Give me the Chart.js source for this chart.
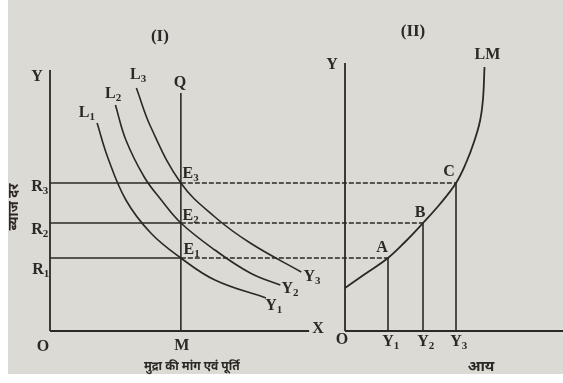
<!DOCTYPE html>
<html>
<head>
<meta charset="utf-8">
<script src="https://cdn.jsdelivr.net/npm/chart.js@4/dist/chart.umd.min.js"></script>
<style>
  html, body { margin: 0; padding: 0; background: #ffffff; }
  #wrap { position: relative; width: 563px; height: 383px; }
  canvas { display: block; }
</style>
</head>
<body>
<div id="wrap"><canvas id="lm" width="563" height="383"></canvas></div>
<script>
// Interest rate levels R1, R2, R3 and the fixed money supply M
const rateLevels = [7.3, 10.8, 14.8];
const moneySupply = 10;
// Income levels Y1, Y2, Y3 that clear the money market at R1..R3
const incomeLevels = [4.3, 7.8, 11.1];

// Liquidity preference curves (money demanded, interest rate) for each income level
const l1Money = [3.6, 4.4, 5.8, 7.7, 10, 12.6, 16.5];
const l1Rate  = [20.8, 17.4, 13.1, 9.8, 7.3, 5.1, 3.3];
const l2Money = [5.0, 5.8, 7.2, 8.5, 10, 12.6, 15.3, 17.6];
const l2Rate  = [22.6, 19.1, 15.4, 13.1, 10.8, 8.1, 5.8, 4.6];
const l3Money = [6.6, 7.7, 10, 12.6, 15.3, 19.2];
const l3Rate  = [24.3, 20.4, 14.8, 11.4, 8.8, 5.9];

// LM curve (income, interest rate), passing through A, B and C
const lmIncome = [0, 2.0, 4.3, 6.0, 7.8, 9.5, 11.1, 12.1, 12.9, 13.5, 13.8, 13.95];
const lmRate   = [4.3, 5.7, 7.3, 8.9, 10.8, 12.7, 14.8, 16.8, 18.9, 21.0, 23.2, 26.4];

// Axis extents in data units
const moneyAxisEnd = 19.8;
const rateAxisTopI = 26.1;
const supplyLineTop = 23.8;
const rateAxisTopII = 26.8;
const incomeAxisEnd = 21.8;

const INK = '#2b2825';
const PAPER = 'rgb(220,218,212)';

const pts = (xs, ys) => xs.map((x, i) => ({ x, y: ys[i] }));
const seg = (x0, y0, x1, y1) => [{ x: x0, y: y0 }, { x: x1, y: y1 }];

function lineSet(data, xAxisID, width, smooth) {
  return {
    type: 'line', data, xAxisID, yAxisID: 'y',
    borderColor: INK, borderWidth: width || 1.6,
    pointRadius: 0, fill: false, clip: false,
    tension: smooth ? 0.4 : 0
  };
}

const datasets = [
  // panel I axes and money supply line
  lineSet(seg(0, 0, 0, rateAxisTopI), 'xm', 1.8),
  lineSet(seg(0, 0, moneyAxisEnd, 0), 'xm', 1.8),
  lineSet(seg(moneySupply, 0, moneySupply, supplyLineTop), 'xm', 1.6),
  // solid rate lines from the axis to the equilibrium points
  ...rateLevels.map(r => lineSet(seg(0, r, moneySupply, r), 'xm', 1.6)),
  // liquidity preference curves
  lineSet(pts(l1Money, l1Rate), 'xm', 1.6, true),
  lineSet(pts(l2Money, l2Rate), 'xm', 1.6, true),
  lineSet(pts(l3Money, l3Rate), 'xm', 1.6, true),
  // panel II axes
  lineSet(seg(0, 0, 0, rateAxisTopII), 'xi', 1.8),
  lineSet(seg(0, 0, incomeAxisEnd, 0), 'xi', 1.8),
  // drop lines from A, B, C to the income axis
  ...incomeLevels.map((y, i) => lineSet(seg(y, 0, y, rateLevels[i]), 'xi', 1.6)),
  // LM curve
  lineSet(pts(lmIncome, lmRate), 'xi', 1.8, true)
];

// Text labels: anchor in data units, plus a small pixel nudge
const labels = [
  { t: '(I)', ax: 'xm', x: 8.4, y: 29.4, dx: 0, dy: 0, size: 17 },
  { t: '(II)', ax: 'xi', x: 6.8, y: 29.9, dx: 0, dy: 0, size: 17 },
  { t: 'Y', ax: 'xm', x: 0, y: rateAxisTopI, dx: -13, dy: 7 },
  { t: 'L', s: '1', ax: 'xm', x: l1Money[0], y: l1Rate[0], dx: -13, dy: -10 },
  { t: 'L', s: '2', ax: 'xm', x: l2Money[0], y: l2Rate[0], dx: -5, dy: -11 },
  { t: 'L', s: '3', ax: 'xm', x: l3Money[0], y: l3Rate[0], dx: -1, dy: -13 },
  { t: 'Q', ax: 'xm', x: moneySupply, y: supplyLineTop, dx: -1, dy: -10 },
  { t: 'E', s: '3', ax: 'xm', x: moneySupply, y: rateLevels[2], dx: 7, dy: -9 },
  { t: 'E', s: '2', ax: 'xm', x: moneySupply, y: rateLevels[1], dx: 7, dy: -7 },
  { t: 'E', s: '1', ax: 'xm', x: moneySupply, y: rateLevels[0], dx: 8, dy: -8 },
  { t: 'R', s: '3', ax: 'xm', x: 0, y: rateLevels[2], dx: -13, dy: 4 },
  { t: 'R', s: '2', ax: 'xm', x: 0, y: rateLevels[1], dx: -13, dy: 7 },
  { t: 'R', s: '1', ax: 'xm', x: 0, y: rateLevels[0], dx: -12, dy: 12 },
  { t: 'O', ax: 'xm', x: 0, y: 0, dx: -7, dy: 16 },
  { t: 'M', ax: 'xm', x: moneySupply, y: 0, dx: 1, dy: 15 },
  { t: 'X', ax: 'xm', x: moneyAxisEnd, y: 0, dx: 9, dy: -2 },
  { t: 'Y', s: '1', ax: 'xm', x: l1Money[l1Money.length - 1], y: l1Rate[l1Rate.length - 1], dx: 5, dy: 8 },
  { t: 'Y', s: '2', ax: 'xm', x: l2Money[l2Money.length - 1], y: l2Rate[l2Rate.length - 1], dx: 7, dy: 4 },
  { t: 'Y', s: '3', ax: 'xm', x: l3Money[l3Money.length - 1], y: l3Rate[l3Rate.length - 1], dx: 8, dy: 5 },
  { t: 'Y', ax: 'xi', x: 0, y: rateAxisTopII, dx: -13, dy: 2 },
  { t: 'LM', ax: 'xi', x: lmIncome[lmIncome.length - 1], y: lmRate[lmRate.length - 1], dx: 3, dy: -12 },
  { t: 'A', ax: 'xi', x: incomeLevels[0], y: rateLevels[0], dx: -6, dy: -10 },
  { t: 'B', ax: 'xi', x: incomeLevels[1], y: rateLevels[1], dx: -3, dy: -10 },
  { t: 'C', ax: 'xi', x: incomeLevels[2], y: rateLevels[2], dx: -7, dy: -11 },
  { t: 'O', ax: 'xi', x: 0, y: 0, dx: -3, dy: 9 },
  ...incomeLevels.map((v, i) => ({ t: 'Y', s: String(i + 1), ax: 'xi', x: v, y: 0, dx: 0, dy: 11 })),
  { t: 'मुद्रा की मांग एवं पूर्ति', ax: 'xm', x: moneySupply, y: 0, dx: 11, dy: 37, size: 12, deva: true },
  { t: 'आय', ax: 'xi', x: 13.6, y: 0, dx: 0, dy: 37, size: 15, deva: true }
];

const SERIF = '"Liberation Serif", "DejaVu Serif", serif';
const DEVA = '"Noto Sans Devanagari", "Lohit Devanagari", "FreeSans", "Noto Sans", "DejaVu Sans", sans-serif';

const paperPlugin = {
  id: 'paper',
  beforeDraw(chart) {
    const { ctx, width, height } = chart;
    ctx.save();
    ctx.fillStyle = '#ffffff';
    ctx.fillRect(0, 0, width, height);
    ctx.fillStyle = PAPER;
    ctx.fillRect(8, 0, width - 8, height - 9);
    ctx.restore();
  }
};

// Dashed connectors carrying each rate from panel I across to the LM curve
const connectorPlugin = {
  id: 'connectors',
  afterDatasetsDraw(chart) {
    const { ctx, scales } = chart;
    ctx.save();
    ctx.strokeStyle = INK;
    ctx.lineWidth = 1.5;
    ctx.setLineDash([5, 2]);
    rateLevels.forEach((r, i) => {
      const y = scales.y.getPixelForValue(r);
      const x0 = scales.xm.getPixelForValue(moneySupply);
      const x1 = scales.xi.getPixelForValue(incomeLevels[i]);
      ctx.beginPath();
      ctx.moveTo(x0, y);
      ctx.lineTo(x1, y);
      ctx.stroke();
    });
    ctx.restore();
  }
};

const labelPlugin = {
  id: 'labels',
  afterDraw(chart) {
    const { ctx, scales } = chart;
    ctx.save();
    ctx.fillStyle = INK;
    ctx.textBaseline = 'middle';
    labels.forEach(l => {
      const px = scales[l.ax].getPixelForValue(l.x) + l.dx;
      const py = scales.y.getPixelForValue(l.y) + l.dy;
      const size = l.size || 16;
      ctx.font = l.deva ? `bold ${size}px ${DEVA}` : `bold ${size}px ${SERIF}`;
      ctx.textAlign = 'center';
      ctx.fillText(l.t, px, py);
      if (l.s) {
        const w = ctx.measureText(l.t).width;
        ctx.font = `bold ${Math.round(size * 0.68)}px ${SERIF}`;
        ctx.textAlign = 'left';
        ctx.fillText(l.s, px + w / 2, py + 4);
      }
    });
    // vertical axis caption for the interest rate
    const cx = scales.xm.getPixelForValue(0) - 35;
    const cy = scales.y.getPixelForValue((rateLevels[1] + rateLevels[2]) / 2) + 4;
    ctx.translate(cx, cy);
    ctx.rotate(-Math.PI / 2);
    ctx.font = `bold 14px ${DEVA}`;
    ctx.textAlign = 'center';
    ctx.fillText('ब्याज दर', 0, 0);
    ctx.restore();
  }
};

new Chart(document.getElementById('lm'), {
  type: 'line',
  data: { datasets },
  options: {
    responsive: false,
    animation: false,
    devicePixelRatio: 1,
    layout: { padding: { left: 50, right: 0, top: 31, bottom: 52 } },
    plugins: { legend: { display: false }, tooltip: { enabled: false } },
    scales: {
      xm: { type: 'linear', axis: 'x', min: 0, max: 39.2, display: false },
      xi: { type: 'linear', axis: 'x', min: -29.5, max: 21.8, display: false },
      y: { type: 'linear', min: 0, max: 30, display: false }
    }
  },
  plugins: [paperPlugin, connectorPlugin, labelPlugin]
});
</script>
</body>
</html>
